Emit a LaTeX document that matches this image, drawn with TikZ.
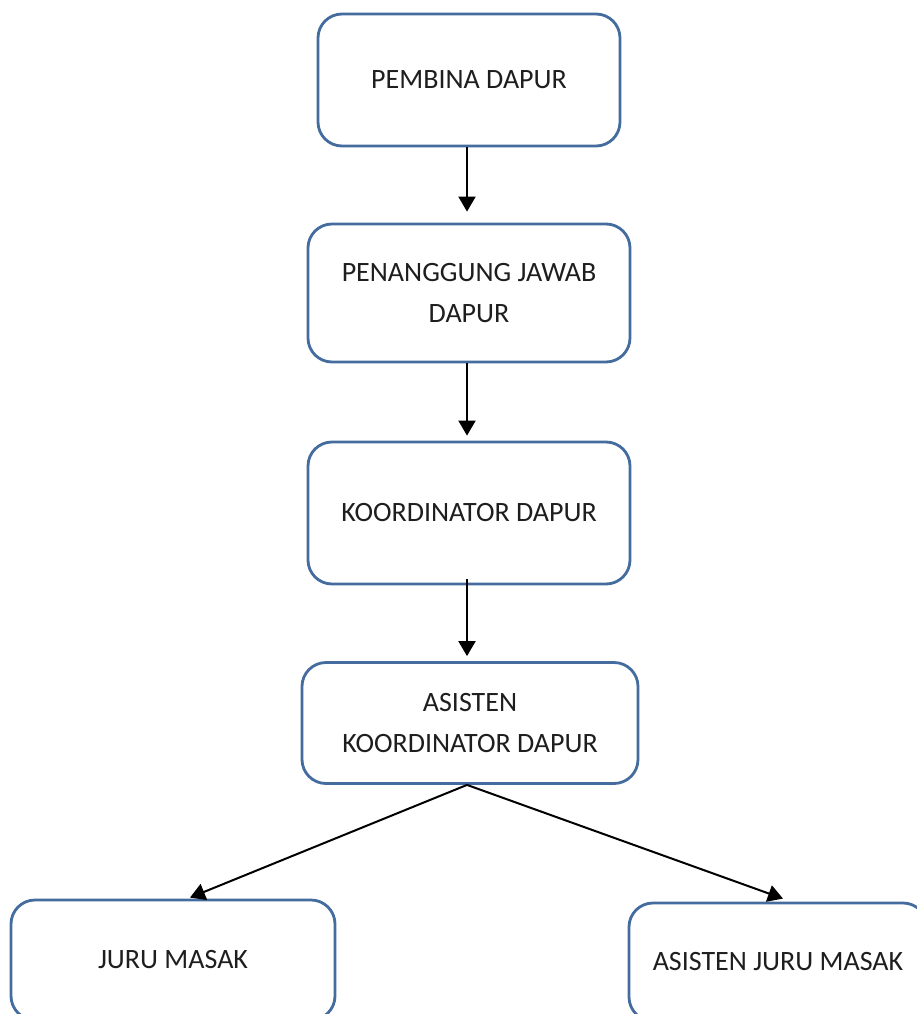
\documentclass[tikz,border=0pt]{standalone}
\usepackage{fontspec}
\setmainfont{Carlito}
\usetikzlibrary{arrows.meta,calc}
\definecolor{boxblue}{RGB}{68,108,158}
\definecolor{txt}{RGB}{30,30,30}
\tikzset{
  orgbox/.style={draw=boxblue, line width=2.8pt, rounded corners=24pt, fill=white,
    align=center, text=txt, font=\fontsize{28}{41}\selectfont, inner sep=0pt},
  conn/.style={line width=2pt, -{Triangle[length=15pt,width=17pt]}}
}
\begin{document}
\begin{tikzpicture}[x=1pt,y=-1pt]
\clip (0,0) rectangle (917,1014);
\fill[white] (0,0) rectangle (917,1014);
\node[orgbox, minimum width=302pt, minimum height=132pt] (b1) at (469,80) {PEMBINA DAPUR};
\node[orgbox, minimum width=322pt, minimum height=138pt] (b2) at (469,293) {PENANGGUNG JAWAB\\DAPUR};
\node[orgbox, minimum width=322pt, minimum height=142pt] (b3) at (469,513) {KOORDINATOR DAPUR};
\node[orgbox, minimum width=336pt, minimum height=121pt] (b4) at (470,723) {ASISTEN\\KOORDINATOR DAPUR};
\node[orgbox, minimum width=324pt, minimum height=120pt] (b5) at (173,960) {JURU MASAK};
\node[orgbox, minimum width=298pt, minimum height=118pt] (b6) at (778,962) {ASISTEN JURU MASAK};
\coordinate (t5) at ($(b5.north)+(17,-1)$);
\coordinate (t6) at ($(b6.north)+(5,-3)$);
\draw[conn, shorten >=11pt] ($(b1.south)+(-2,0)$) -- ($(b2.north)+(-2,0)$);
\draw[conn, shorten >=5pt] ($(b2.south)+(-2,0)$) -- ($(b3.north)+(-2,0)$);
\draw[conn, shorten >=5pt] ($(b3.south)+(-2,-6)$) -- ($(b4.north)+(-3,0)$);
\draw[conn] ($(b4.south)+(-3,0)$) -- (t5);
\draw[conn] ($(b4.south)+(-3,0)$) -- (t6);
\end{tikzpicture}
\end{document}
